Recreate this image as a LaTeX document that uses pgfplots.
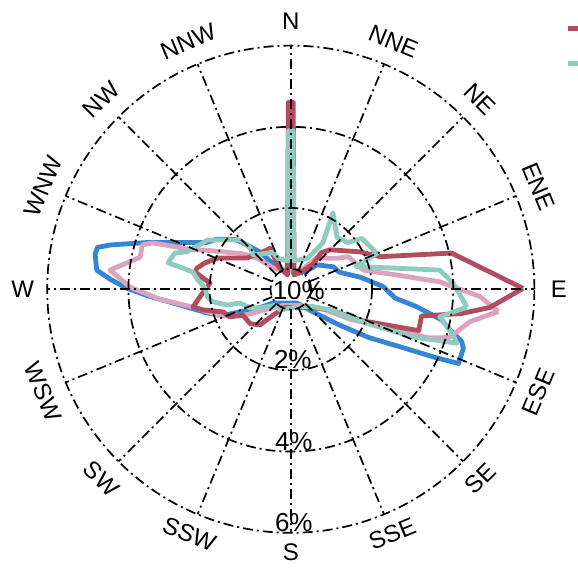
\documentclass[border=0pt]{standalone}
\usepackage{fontspec}
\setmainfont{Liberation Sans}
\usepackage{pgfplots}
\pgfplotsset{compat=1.18}
\definecolor{cmaroon}{RGB}{178,76,94}
\definecolor{cteal}{RGB}{143,203,193}
\definecolor{cpink}{RGB}{221,163,190}
\definecolor{cblue}{RGB}{53,133,213}
\tikzset{gridl/.style={black, line width=1.7pt, dash pattern=on 10pt off 4pt on 2pt off 4pt}}
\begin{document}
\begin{tikzpicture}
\path[use as bounding box] (-290.8pt,-279.8pt) rectangle (287.2pt,289.2pt);
\begin{axis}[at={(0,0)}, anchor=origin, x=40.6pt, y=40.6pt,
  xmin=-7, xmax=7, ymin=-7, ymax=7, hide axis, clip=false,
  every axis plot/.append style={line width=4.8pt, line join=round}]
% blue
\addplot[cblue] coordinates {
(0.30,0.40) (0.65,0.60) (1.05,0.55) (1.19,0.42) (1.73,0.29) (2.28,0.06) (2.57,-0.22)
(3.10,-0.43) (3.72,-0.76) (3.92,-1.00) (4.21,-1.29) (4.25,-1.46) (4.13,-1.83)
(3.55,-1.68) (2.83,-1.46) (1.92,-1.19) (1.19,-0.88) (0.55,-0.56) (0.15,-0.34)
(-0.44,-0.34) (-0.81,-0.47) (-1.71,-0.65) (-2.08,-0.58) (-2.90,-0.34) (-3.53,-0.16)
(-4.03,0.02) (-4.44,0.24) (-4.78,0.47) (-4.82,0.87) (-4.76,1.03) (-4.44,1.09)
(-3.53,1.15) (-2.08,1.15) (-1.83,1.23) (-1.35,1.22) (-1.09,1.09) (-0.76,0.92)
(-0.30,0.50) (-0.06,0.45) (-0.05,2.5) (0.05,2.5) (0.06,0.40) (0.30,0.40)};
% pink
\addplot[cpink] coordinates {
(5.11,-0.55) (4.66,-0.18) (3.67,0.18) (2.61,0.35) (1.79,0.47) (1.42,0.80) (1.13,0.76)
(0.64,0.77) (0.30,0.50) (0.06,0.45) (0.05,2.6) (-0.05,2.6) (-0.06,0.45) (-0.40,0.50)
(-0.80,0.75) (-1.17,0.87) (-2.08,0.96) (-2.41,0.97) (-3.39,1.14) (-3.66,1.09)
(-3.71,0.79) (-4.45,0.47) (-3.96,0.05) (-3.22,-0.25) (-2.41,-0.44) (-1.72,-0.66)
(-1.18,-0.65) (-0.60,-0.50) (-0.20,-0.40) (0.20,-0.40) (0.74,-0.47) (1.46,-0.74)
(2.46,-0.97) (3.40,-1.20) (3.90,-1.19) (4.09,-1.05) (4.41,-0.80) (5.11,-0.55)};
% maroon
\addplot[cmaroon] coordinates {
(5.72,0.02) (3.96,0.89) (2.20,0.80) (1.70,0.92) (0.97,0.97) (0.75,0.90) (0.55,0.62)
(0.30,0.45) (0.08,0.35) (0.06,4.6) (-0.06,4.6) (-0.08,0.35) (-0.30,0.55) (-0.51,1.01)
(-0.68,0.92) (-1.08,0.77) (-1.79,0.77) (-2.11,0.65) (-2.31,0.52) (-2.36,0.42)
(-1.99,0.15) (-2.24,-0.19) (-2.41,-0.44) (-2.16,-0.51) (-1.67,-0.56) (-1.50,-0.68)
(-1.18,-0.64) (-1.00,-0.85) (-0.76,-0.88) (-0.45,-0.65) (-0.15,-0.45) (0.10,-0.45)
(0.50,-0.45) (0.97,-0.51) (1.78,-0.78) (3.15,-1.02) (3.22,-0.66) (4.20,-0.60)
(4.90,-0.45) (5.72,0.02)};
% teal
\addplot[cteal] coordinates {
(4.34,-0.44) (4.00,0.15) (3.67,0.47) (2.30,0.53) (1.60,0.56) (2.12,0.88) (1.95,1.05)
(1.75,1.25) (1.40,1.15) (1.14,1.27) (1.04,1.88) (0.79,1.14) (0.40,0.75) (0.07,0.70)
(0.06,3.9) (-0.06,3.9) (-0.07,0.70) (-0.30,0.75) (-0.44,0.91) (-0.93,0.84) (-1.00,1.01)
(-1.25,1.21) (-1.74,1.21) (-2.06,1.21) (-2.16,1.14) (-2.56,0.92) (-2.85,0.89)
(-2.98,0.72) (-3.02,0.65) (-2.66,0.52) (-2.41,0.42) (-2.29,0.23) (-2.11,0.03)
(-2.06,-0.19) (-1.92,-0.31) (-1.57,-0.39) (-1.25,-0.34) (-1.00,-0.46) (-0.76,-0.46)
(-0.34,-0.39) (-0.27,-0.51) (0.10,-0.45) (0.50,-0.42) (0.97,-0.51) (1.78,-0.81)
(3.01,-1.18) (4.09,-1.33) (4.00,-1.13) (3.67,-0.68) (4.34,-0.44)};
\end{axis}
% grid
\foreach \r in {20.3,81.2,162.4,243.6} \draw[gridl] (0,0) circle (\r pt);
\foreach \a in {0,22.5,...,337.5} \draw[gridl] (\a:20.3pt) -- (\a:243.6pt);
% direction labels
\foreach \a/\t/\r/\d in {90/N/0/268, 67.5/NNE/-22.5/268, 45/NE/-45/268, 22.5/ENE/-67.5/268, 0/E/0/268,
  -22.5/ESE/67.5/268, -45/SE/45/268, -67.5/SSE/22.5/265, -90/S/0/263, -112.5/SSW/-22.5/265,
  -135/SW/-45/268, -157.5/WSW/-67.5/268, 180/W/0/268, 157.5/WNW/67.5/268, 135/NW/45/268, 112.5/NNW/22.5/268}
  \node[rotate=\r, font=\fontsize{24}{26}\selectfont, inner sep=0pt] at (\a:\d pt) {\t};
% radial labels
\node[font=\fontsize{26}{28}\selectfont, inner sep=0pt] at (2pt,-70pt) {2\%};
\node[font=\fontsize{26}{28}\selectfont, inner sep=0pt] at (3pt,-152pt) {4\%};
\node[font=\fontsize{26}{28}\selectfont, inner sep=0pt] at (3pt,-233pt) {6\%};
\node[font=\fontsize{26}{28}\selectfont, inner sep=0pt] at (8pt,-1pt) {10\%};
% legend samples (cut off at right edge)
\draw[cmaroon, line width=5pt] (277pt,261pt) -- (300pt,261pt);
\draw[cteal, line width=5pt] (277pt,226pt) -- (300pt,226pt);
\end{tikzpicture}
\end{document}
